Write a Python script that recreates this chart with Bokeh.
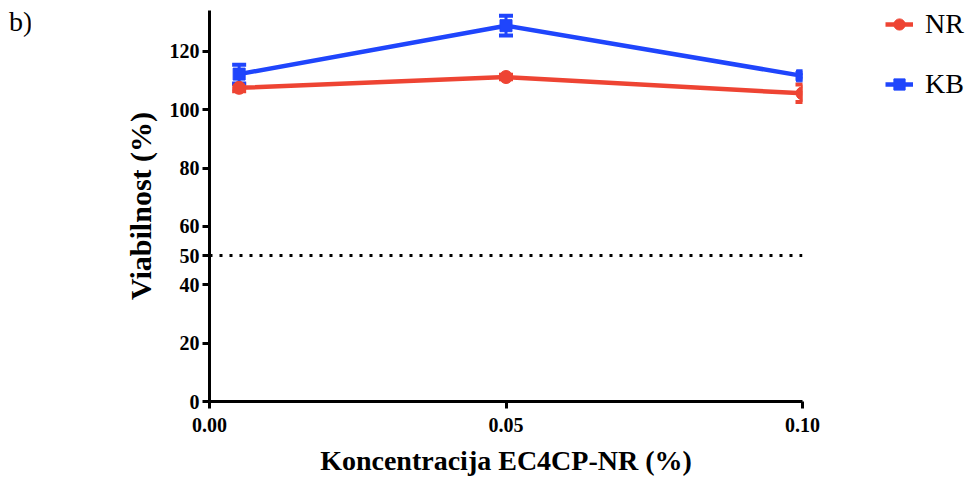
from bokeh.plotting import figure
from bokeh.models import (ColumnDataSource, Whisker, FixedTicker, NumeralTickFormatter,
                          Legend, LegendItem, Span, Range1d, Div)
from bokeh.layouts import row
from bokeh.embed import file_html
from bokeh.resources import INLINE

conc = [0.005, 0.05, 0.1]
nr_vals = [107.5, 111.2, 105.6]
nr_err = [1.2, 0.8, 3.0]
kb_vals = [112.2, 128.8, 111.6]
kb_err = [3.2, 3.4, 1.0]
y_ticks = [0, 20, 40, 50, 60, 80, 100, 120]
x_ticks = [0.0, 0.05, 0.10]
threshold = 50

RED = "#EE4433"
BLUE = "#1F45FC"
FONT = "Liberation Serif"

p = figure(frame_width=593, frame_height=391, output_backend="svg", toolbar_location=None,
           x_range=Range1d(0, 0.1), y_range=Range1d(0, 134),
           min_border_left=179, min_border_right=150, min_border_top=10, min_border_bottom=76)
p.margin = 0
p.outline_line_color = None
p.grid.visible = False
p.background_fill_color = "white"

nr_src = ColumnDataSource(dict(x=conc, y=nr_vals,
                               lo=[v - e for v, e in zip(nr_vals, nr_err)],
                               hi=[v + e for v, e in zip(nr_vals, nr_err)]))
kb_src = ColumnDataSource(dict(x=conc, y=kb_vals,
                               lo=[v - e for v, e in zip(kb_vals, kb_err)],
                               hi=[v + e for v, e in zip(kb_vals, kb_err)]))

p.add_layout(Span(location=threshold, dimension="width", line_color="black",
                  line_width=3, line_dash="3 7"))

for src, col in ((nr_src, RED), (kb_src, BLUE)):
    w = Whisker(source=src, base="x", lower="lo", upper="hi", line_color=col, line_width=3)
    w.upper_head.size = 14
    w.lower_head.size = 14
    w.upper_head.line_color = col
    w.lower_head.line_color = col
    w.upper_head.line_width = 4
    w.lower_head.line_width = 4
    p.add_layout(w)

l1 = p.line("x", "y", source=nr_src, line_color=RED, line_width=4.5)
m1 = p.scatter("x", "y", source=nr_src, marker="circle", size=13, fill_color=RED, line_color=RED)
l2 = p.line("x", "y", source=kb_src, line_color=BLUE, line_width=4.5)
m2 = p.scatter("x", "y", source=kb_src, marker="square", size=12, fill_color=BLUE, line_color=BLUE)

for ax in (p.xaxis[0], p.yaxis[0]):
    ax.axis_line_width = 3
    ax.major_tick_line_width = 3
    ax.major_tick_out = 7
    ax.major_tick_in = 0
    ax.minor_tick_line_color = None
    ax.major_label_text_font = FONT
    ax.major_label_text_font_style = "bold"
    ax.major_label_text_font_size = "20px"
    ax.major_label_text_color = "black"
    ax.axis_label_text_font = FONT
    ax.axis_label_text_font_style = "bold"
    ax.axis_label_text_color = "black"

p.xaxis.ticker = FixedTicker(ticks=x_ticks)
p.xaxis.formatter = NumeralTickFormatter(format="0.00")
p.xaxis.axis_label = "Koncentracija EC4CP-NR (%)"
p.xaxis.axis_label_text_font_size = "28px"
p.xaxis.axis_label_standoff = 10
p.xaxis.major_label_standoff = 9
p.yaxis.ticker = FixedTicker(ticks=y_ticks)
p.yaxis.axis_label = "Viabilnost (%)"
p.yaxis.axis_label_text_font_size = "30px"
p.yaxis.axis_label_standoff = 10
p.yaxis.major_label_standoff = 3

legend = Legend(items=[LegendItem(label="NR", renderers=[l1, m1]),
                       LegendItem(label="KB", renderers=[l2, m2])],
                location=(83, 301))
legend.label_text_font = FONT
legend.label_text_font_size = "28px"
legend.label_text_color = "black"
legend.glyph_width = 28
legend.glyph_height = 28
legend.label_height = 28
legend.label_standoff = 12
legend.spacing = 28
legend.padding = 0
legend.margin = 0
legend.border_line_color = None
legend.background_fill_alpha = 0
p.add_layout(legend, "right")

tag = Div(text='<span style="font-family:\'Liberation Serif\';font-size:28px;color:black;line-height:1">b)</span>',
          width=30, height=40, margin=0,
          styles={"padding-left": "9px", "padding-top": "8px"})

layout = row(tag, p, spacing=0)
open("out.html", "w").write(file_html(layout, INLINE))
